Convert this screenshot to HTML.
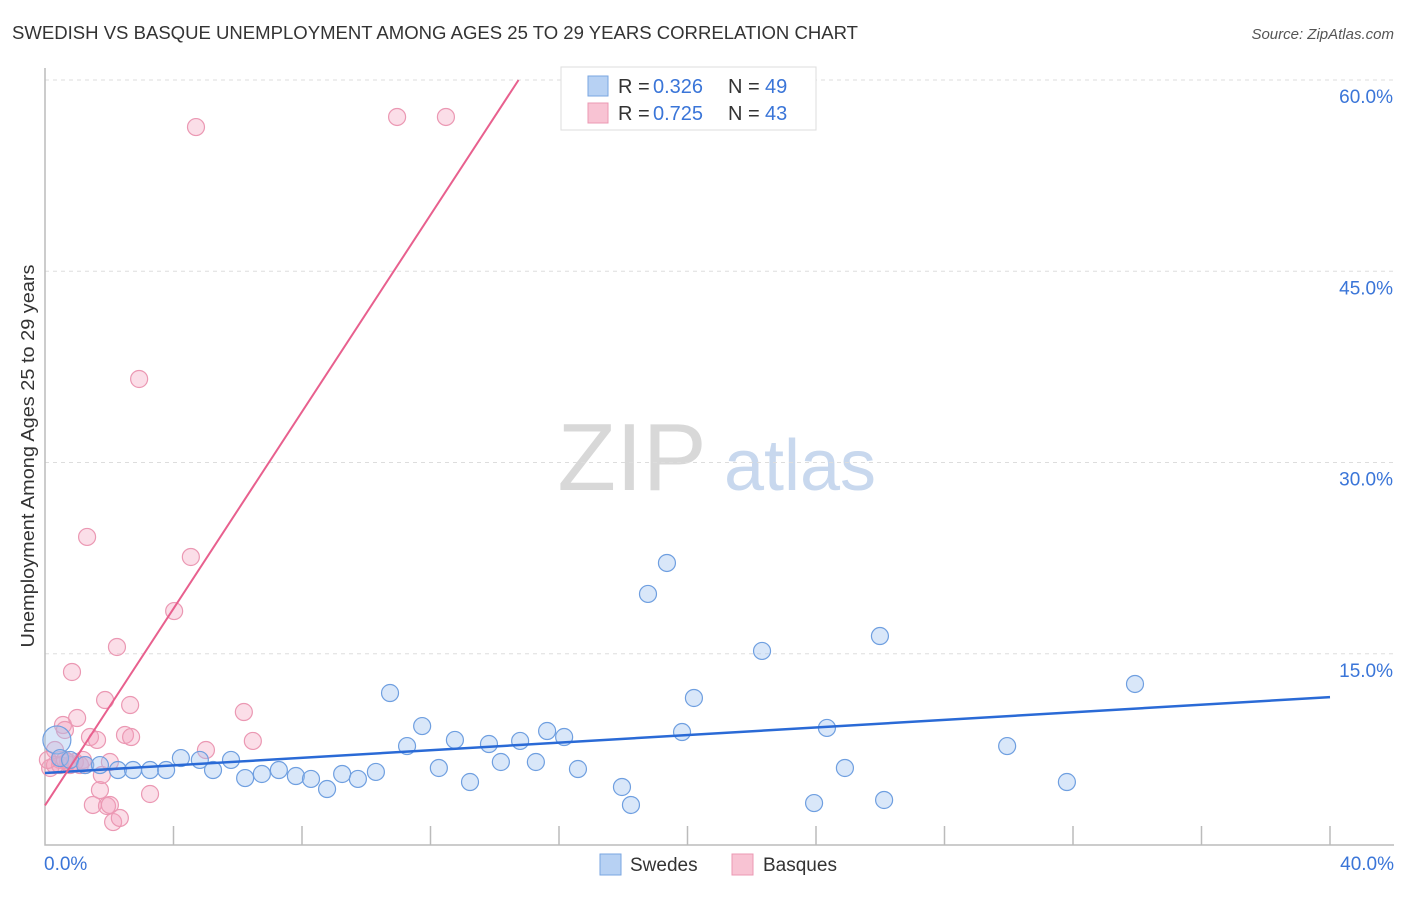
<!DOCTYPE html>
<html><head><meta charset="utf-8"><style>
body{margin:0;background:#fff;font-family:"Liberation Sans",sans-serif;}
svg text{font-family:"Liberation Sans",sans-serif;}
</style></head><body>
<svg id="chart" width="1406" height="892" viewBox="0 0 1406 892" xmlns="http://www.w3.org/2000/svg">
<text x="12" y="39" font-size="18" fill="#333" textLength="846" lengthAdjust="spacingAndGlyphs">SWEDISH VS BASQUE UNEMPLOYMENT AMONG AGES 25 TO 29 YEARS CORRELATION CHART</text>
<text x="1394" y="39" font-size="15" fill="#555" text-anchor="end" font-style="italic">Source: ZipAtlas.com</text>
<g>
<text x="632" y="490" font-size="96" fill="#d8d8d8" text-anchor="middle" font-family="Liberation Serif, serif">ZIP</text>
<text x="800" y="490" font-size="72" fill="#c8d8ee" text-anchor="middle">atlas</text>
</g>
<g id="grid"></g>
<g id="axes"></g>
<g id="pts"></g>
<g id="lines"></g>
<text transform="translate(34,456) rotate(-90)" font-size="18" fill="#333" text-anchor="middle" textLength="383" lengthAdjust="spacingAndGlyphs">Unemployment Among Ages 25 to 29 years</text>
<g>
<rect x="561" y="67" width="255" height="63" fill="#fff" stroke="#ddd"/>
<rect x="588" y="76" width="20" height="20" fill="#b7d1f3" stroke="#7aa6e0"/>
<rect x="588" y="103" width="20" height="20" fill="#f8c3d3" stroke="#eb98b3"/>
<text x="618" y="93" font-size="20" fill="#333">R =</text>
<text x="653" y="93" font-size="20" fill="#3a75d8">0.326</text>
<text x="728" y="93" font-size="20" fill="#333">N =</text>
<text x="765" y="93" font-size="20" fill="#3a75d8">49</text>
<text x="618" y="120" font-size="20" fill="#333">R =</text>
<text x="653" y="120" font-size="20" fill="#3a75d8">0.725</text>
<text x="728" y="120" font-size="20" fill="#333">N =</text>
<text x="765" y="120" font-size="20" fill="#3a75d8">43</text>
</g>
<g>
<rect x="600" y="854" width="21" height="21" fill="#b7d1f3" stroke="#7aa6e0"/>
<text x="630" y="871" font-size="19" fill="#333">Swedes</text>
<rect x="732" y="854" width="21" height="21" fill="#f8c3d3" stroke="#eb98b3"/>
<text x="763" y="871" font-size="19" fill="#333">Basques</text>
</g>
</svg>
<script>
const xTicks=[0,4,8,12,16,20,24,28,32,36,40];
const yTicks=[15,30,45,60];
const yTickLabels=["15.0%","30.0%","45.0%","60.0%"];
const swedesX=[0.37,0.47,0.78,1.25,1.71,2.27,2.74,3.27,3.77,4.23,4.82,5.23,5.79,6.23,6.75,7.28,7.81,8.28,8.78,9.25,9.74,10.30,10.74,11.27,11.74,12.26,12.76,13.23,13.82,14.19,14.79,15.28,15.63,16.16,16.59,17.96,18.24,18.77,19.36,19.83,20.20,22.32,23.94,24.34,24.90,25.99,26.12,29.95,31.81,33.93];
const swedesY=[8.24,6.82,6.67,6.27,6.27,5.88,5.88,5.88,5.88,6.82,6.67,5.88,6.67,5.25,5.57,5.88,5.41,5.18,4.39,5.57,5.18,5.73,11.92,7.76,9.33,6.04,8.24,4.94,7.92,6.51,8.16,6.51,8.94,8.47,5.96,4.55,3.14,19.69,22.12,8.86,11.53,15.22,3.29,9.18,6.04,16.39,3.53,7.76,4.94,12.63];
const basquesX=[0.16,0.31,0.47,0.56,0.62,0.78,1.0,1.18,1.31,1.40,1.49,1.62,1.71,1.77,1.87,1.93,2.02,2.12,2.24,2.33,2.49,2.65,2.68,2.93,3.27,4.02,4.54,4.70,5.01,6.19,6.47,10.96,12.48,0.47,0.72,0.93,1.09,1.25,0.84,0.31,0.09,0.62,2.02];
const basquesY=[6.04,7.45,6.67,9.41,9.02,6.27,9.96,6.67,24.16,8.47,3.14,8.24,4.31,5.49,11.37,3.06,3.14,1.80,15.53,2.12,8.63,10.98,8.47,36.55,4.0,18.35,22.59,56.31,7.45,10.43,8.16,57.1,57.1,6.27,6.51,6.51,6.27,6.27,13.57,6.27,6.67,6.67,6.51];
const swedesFit=[5.65,11.6];
const basquesFit=[3.1,3.86];
const NS="http://www.w3.org/2000/svg";
const sx=v=>45+v*32.125, sy=v=>845-v*12.75;
function mk(tag,attrs,parent){const e=document.createElementNS(NS,tag);for(const k in attrs)e.setAttribute(k,attrs[k]);document.getElementById(parent).appendChild(e);return e;}
yTicks.forEach((t,i)=>{
 const g=mk('line',{x1:45,x2:1394,y1:sy(t),y2:sy(t),stroke:'#ddd','stroke-dasharray':'4,4'},'grid');
 
 
 const l=mk('text',{x:1393,y:sy(t)+23,'font-size':19,fill:'#3a75d8','text-anchor':'end'},'axes');
 l.textContent=yTickLabels[i];
 
 
});
const ax=mk('path',{d:'M45,68 V845 H1394',fill:'none',stroke:'#bbb','stroke-width':1.5},'axes');


xTicks.forEach(t=>{if(t===0)return;
 const tk=mk('line',{x1:sx(t),x2:sx(t),y1:826,y2:845,stroke:'#bbb','stroke-width':1.5},'axes');
 
 
});
const x0=mk('text',{x:44,y:870,'font-size':19,fill:'#3a75d8'},'axes');x0.textContent='0.0%';


const x1=mk('text',{x:1394,y:870,'font-size':19,fill:'#3a75d8','text-anchor':'end'},'axes');x1.textContent='40.0%';


basquesX.forEach((x,i)=>{
 const c=mk('circle',{cx:sx(x),cy:sy(basquesY[i]),r:8.5,fill:'rgba(244,160,188,0.35)',stroke:'#eb98b3','stroke-width':1.2},'pts');
 
 
});
swedesX.forEach((x,i)=>{
 const c=mk('circle',{cx:sx(x),cy:sy(swedesY[i]),r:i===0?14:8.5,fill:'rgba(160,196,240,0.4)',stroke:'#6f9fe0','stroke-width':1.2},'pts');
 
 
});
const bl=mk('line',{x1:sx(0),y1:sy(swedesFit[0]),x2:sx(40),y2:sy(swedesFit[1]),stroke:'#2a6ad6','stroke-width':2.5},'lines');


const xe=(60-basquesFit[0])/basquesFit[1];
const pl=mk('line',{x1:sx(0),y1:sy(basquesFit[0]),x2:sx(xe),y2:sy(60),stroke:'#e8608e','stroke-width':2},'lines');


</script>
</body></html>
